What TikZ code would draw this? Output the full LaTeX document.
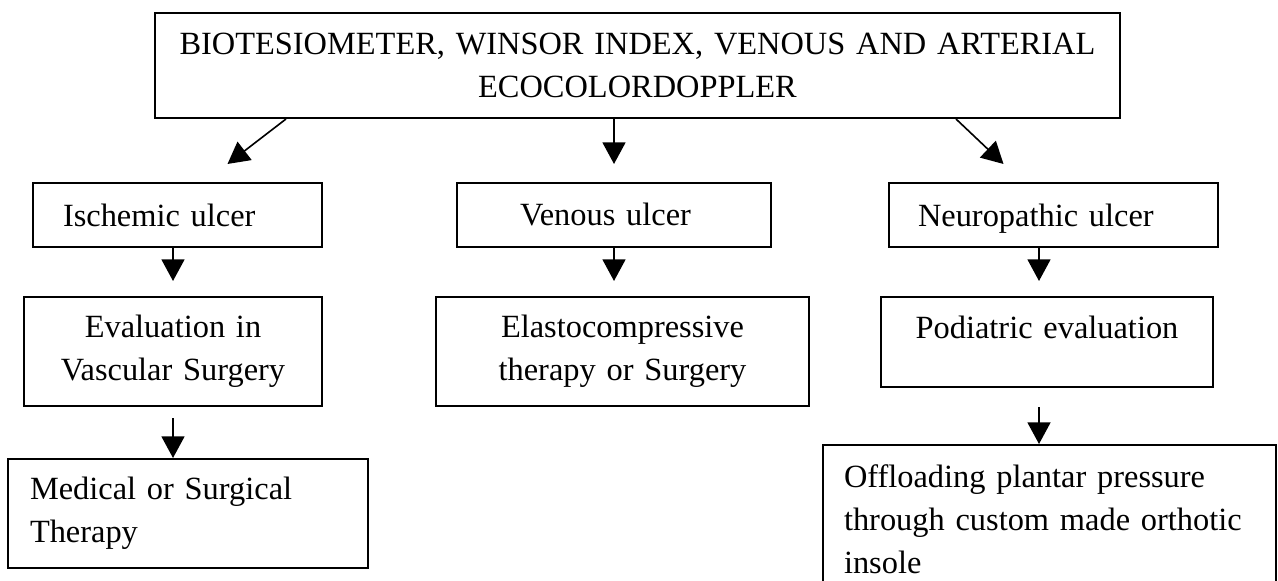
\documentclass[tikz,border=0pt]{standalone}
\usepackage{fontspec}
\setmainfont{Liberation Serif}
\usetikzlibrary{positioning,arrows.meta}

\newlength{\px}
\setlength{\px}{0.3704pt}

\begin{document}
\begin{tikzpicture}[
    x=0.3704pt, y=-0.3704pt,
    box/.style={draw, line width=0.75pt, inner ysep=0pt, font=\fontsize{12}{15.9}\selectfont},
    arrow/.style={-{Triangle[length=8pt,width=8.5pt]}, line width=0.6pt}
]

% Page
\useasboundingbox (0,0) rectangle (1278,581);
\clip (0,0) rectangle (1278,581);

% Examinations
\node[box, align=center, text width=935\px, inner xsep=15\px, minimum height=105\px] (exams) at (637.5,65.5)
    {BIOTESIOMETER, WINSOR INDEX, VENOUS AND ARTERIAL\\ECOCOLORDOPPLER};

% Ischemic branch
\node[box, align=left, text width=229\px, inner xsep=30\px, minimum height=64\px] (isch) at (177.5,215) {Ischemic ulcer};
\node[box, align=center, text width=278\px, inner xsep=10\px, minimum height=109\px] (vasc) at (173,351.5) {Evaluation in\\Vascular Surgery};
\node[box, align=left, text width=316\px, inner xsep=22\px, minimum height=109\px] (therapy) at (188,513.5) {Medical or Surgical\\Therapy};

% Venous branch
\node[box, align=left, text width=188\px, inner xsep=63\px, minimum height=64\px] (ven) at (614,215) {Venous ulcer};
\node[box, align=center, text width=353\px, inner xsep=10\px, minimum height=109\px] (elasto) at (622.5,351.5) {Elastocompressive\\therapy or Surgery};

% Neuropathic branch
\node[box, align=left, text width=271\px, inner xsep=29\px, minimum height=64\px, text depth=0pt] (neuro) at (1053.5,215) {Neuropathic ulcer};
\node[box, align=center, text width=312\px, inner xsep=10\px, minimum height=90\px] (podo) at (1047,342) {Podiatric evaluation\\[-4.9pt]~};
\node[box, align=left, text width=411\px, inner xsep=21\px, minimum height=149\px, anchor=north west] (insole) at (822,444)
    {Offloading plantar pressure\\through custom made orthotic\\insole};

% Arrows
\draw[arrow] ([xshift=132\px]exams.south west) -- ([xshift=50\px,yshift=18\px]isch.north);
\draw[arrow] (exams.south -| ven.north) -- ([yshift=18\px]ven.north);
\draw[arrow] ([xshift=-165\px]exams.south east) -- ([xshift=-50\px,yshift=18\px]neuro.north);

\draw[arrow] (isch.south -| vasc.north) -- ([yshift=15\px]vasc.north);
\draw[arrow] ([yshift=-11\px]vasc.south) -- (therapy.north -| vasc.south);

\draw[arrow] (ven.south) -- ([yshift=15\px]ven.south |- elasto.north);

\draw[arrow] ([xshift=-8\px]neuro.south -| podo.north) -- ([xshift=-8\px,yshift=15\px]podo.north);
\draw[arrow] ([xshift=-8\px,yshift=-19\px]podo.south) -- ([xshift=-8\px]podo.south |- insole.north);

\end{tikzpicture}
\end{document}
